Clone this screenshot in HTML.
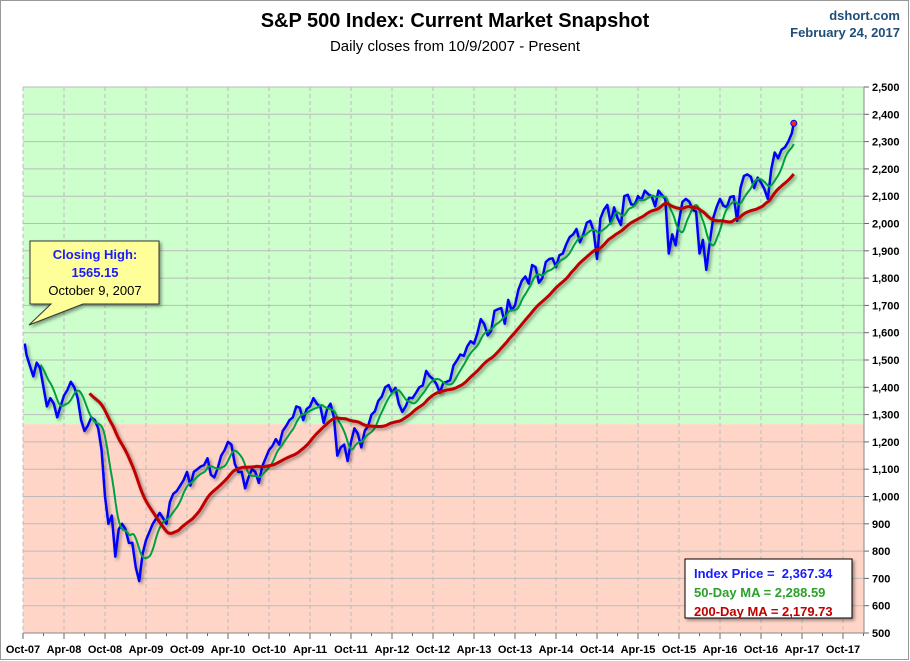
<!DOCTYPE html>
<html><head><meta charset="utf-8"><style>
body{margin:0;background:#fff;}
svg{display:block;font-family:"Liberation Sans",sans-serif;}
</style></head><body>
<svg id="chart" width="910" height="661" viewBox="0 0 910 661">
<defs>
<filter id="sh" x="-10%" y="-10%" width="130%" height="130%"><feDropShadow dx="2" dy="2" stdDeviation="1.5" flood-color="#000" flood-opacity="0.4"/></filter>
</defs>
<rect x="0.5" y="0.5" width="908" height="659" fill="#fff" stroke="#999"/>
<text x="455" y="27" text-anchor="middle" font-size="20" font-weight="bold" fill="#000">S&amp;P 500 Index: Current Market Snapshot</text>
<text x="455" y="51" text-anchor="middle" font-size="15" fill="#000">Daily closes from 10/9/2007 - Present</text>
<text x="900" y="20" text-anchor="end" font-size="13" font-weight="bold" fill="#1f4e79">dshort.com</text>
<text x="900" y="37" text-anchor="end" font-size="13" font-weight="bold" fill="#1f4e79">February 24, 2017</text>
<g id="plot"></g>
</svg>
<script>
// half-monthly S&P 500 closes starting Oct 2007 (last point = Feb 24, 2017)
const priceValues = [1560,1520,1480,1440,1490,1470,1400,1330,1360,1340,1290,1330,1370,1390,1420,1400,1360,1280,1240,1260,1290,1280,1250,1170,1000,900,930,780,880,900,880,830,830,740,690,790,840,870,900,920,940,920,900,980,1010,1020,1040,1060,1090,1040,1090,1100,1110,1115,1140,1080,1070,1105,1150,1170,1200,1190,1120,1090,1090,1030,1070,1100,1090,1050,1110,1140,1170,1185,1210,1190,1240,1258,1280,1290,1330,1325,1280,1320,1330,1360,1340,1330,1270,1320,1340,1290,1150,1180,1190,1130,1200,1250,1230,1180,1240,1258,1300,1312,1350,1366,1400,1408,1380,1398,1340,1310,1330,1362,1360,1379,1400,1407,1460,1441,1430,1412,1380,1416,1420,1426,1480,1498,1520,1515,1550,1569,1560,1598,1650,1631,1590,1606,1680,1686,1690,1633,1720,1682,1700,1757,1790,1806,1780,1848,1840,1783,1800,1859,1870,1872,1840,1884,1890,1924,1950,1960,1980,1931,1960,2003,2010,1972,1870,2018,2050,2068,2000,2059,2020,1995,2100,2105,2070,2068,2100,2086,2120,2107,2100,2063,2120,2104,2090,1890,1960,1920,2010,2079,2090,2080,2050,2044,1890,1940,1830,1932,2020,2060,2090,2065,2060,2097,2100,2010,2130,2174,2180,2171,2130,2168,2150,2126,2090,2199,2260,2239,2270,2279,2300,2330,2367];
const priceMonths = priceValues.map((v,i)=> i===0 ? 0.27 : (i===priceValues.length-1 ? 112.8 : i*0.5));
const yTicks = [500,600,700,800,900,1000,1100,1200,1300,1400,1500,1600,1700,1800,1900,2000,2100,2200,2300,2400,2500];
const xTickLabels = ["Oct-07","Apr-08","Oct-08","Apr-09","Oct-09","Apr-10","Oct-10","Apr-11","Oct-11","Apr-12","Oct-12","Apr-13","Oct-13","Apr-14","Oct-14","Apr-15","Oct-15","Apr-16","Oct-16","Apr-17","Oct-17"];
const xTickMonths = [0,6,12,18,24,30,36,42,48,54,60,66,72,78,84,90,96,102,108,114,120];
const zoneSplit = 1265;
const legendValues = ["2,367.34","2,288.59","2,179.73"];

const L=23,R=864,T=87,B=633;
const xScale=m=>L+m*(843-23)/120;
const yScale=v=>B-(v-500)*(B-T)/2000;
const NS="http://www.w3.org/2000/svg";
const g=document.getElementById('plot');
function mk(tag,attrs,parent){const e=document.createElementNS(NS,tag);for(const k in attrs)e.setAttribute(k,attrs[k]);(parent||g).appendChild(e);return e;}

let e;
e=mk('rect',{x:L,y:T,width:R-L,height:yScale(zoneSplit)-T,fill:'#ccffcc'});


e=mk('rect',{x:L,y:yScale(zoneSplit),width:R-L,height:B-yScale(zoneSplit),fill:'#ffd5c8'});



yTicks.forEach(v=>{
  const y=yScale(v);
  e=mk('line',{x1:L,x2:R,y1:y,y2:y,stroke:'#bbb','stroke-width':1});
  
  
  mk('line',{x1:R,x2:R+5,y1:y,y2:y,stroke:'#666'});
  e=mk('text',{x:872,y:y+4,'font-size':11,'font-weight':'bold',fill:'#000'});
  e.textContent=v.toLocaleString('en-US');
  
  
});
for(let m=0;m<=126;m+=3){
  const x=xScale(m); if(x>R)break;
  if(m%6===0){
    e=mk('line',{x1:x,x2:x,y1:T,y2:B,stroke:'#bbb','stroke-dasharray':'4,3'});
    
    
  }
  mk('line',{x1:x,x2:x,y1:B,y2:B+(m%6===0?6:3),stroke:'#666'});
}
mk('line',{x1:L,x2:R,y1:B,y2:B,stroke:'#888'});
mk('line',{x1:R,x2:R,y1:T,y2:B,stroke:'#888'});
xTickLabels.forEach((lab,i)=>{
  e=mk('text',{x:xScale(xTickMonths[i]),y:653,'text-anchor':'middle','font-size':11,'font-weight':'bold',fill:'#000'});
  e.textContent=lab;
  
  
});

// daily interpolation for moving averages
const daily=[];
for(let m=priceMonths[0];m<=priceMonths[priceMonths.length-1]+1e-9;m+=1/21){
  let i=0;while(i<priceMonths.length-2&&priceMonths[i+1]<m)i++;
  const t=Math.min(1,(m-priceMonths[i])/(priceMonths[i+1]-priceMonths[i]));
  daily.push([m,priceValues[i]+t*(priceValues[i+1]-priceValues[i])]);
}
function ma(n){const out=[];let s=0;for(let i=0;i<daily.length;i++){s+=daily[i][1];if(i>=n)s-=daily[i-n][1];if(i>=n-1)out.push([daily[i][0],s/n]);}return out;}
const pathOf=pts=>pts.map((p,i)=>(i?'L':'M')+xScale(p[0]).toFixed(1)+','+yScale(p[1]).toFixed(1)).join('');

e=mk('path',{d:pathOf(priceMonths.map((m,i)=>[m,priceValues[i]])),fill:'none',stroke:'#0000ff','stroke-width':2.5,'stroke-linejoin':'round',filter:'url(#sh)'});


e=mk('path',{d:pathOf(ma(50)),fill:'none',stroke:'#00a040','stroke-width':2});


e=mk('path',{d:pathOf(ma(200)),fill:'none',stroke:'#c00000','stroke-width':3,filter:'url(#sh)'});


const lm=priceMonths[priceMonths.length-1],lv=priceValues[priceValues.length-1];
e=mk('circle',{cx:xScale(lm),cy:yScale(lv),r:3,fill:'#ff2020',stroke:'#00f'});



// callout
const cg=mk('g',{filter:'url(#sh)'});


mk('path',{d:'M30,241 H159 V304 H83 L29,325 L51,304 H30 Z',fill:'#ffff99',stroke:'#333'},cg);
e=mk('text',{x:95,y:259,'text-anchor':'middle','font-size':13,'font-weight':'bold',fill:'#1a1aff'});e.textContent='Closing High:';
e=mk('text',{x:95,y:277,'text-anchor':'middle','font-size':13,'font-weight':'bold',fill:'#1a1aff'});e.textContent='1565.15';
e=mk('text',{x:95,y:295,'text-anchor':'middle','font-size':13,fill:'#000'});e.textContent='October 9, 2007';

// legend
const lg=mk('g',{filter:'url(#sh)'});


mk('rect',{x:685,y:559,width:167,height:59,fill:'#fff',stroke:'#000'},lg);
const lgLabels=['Index Price = ','50-Day MA = ','200-Day MA = '],lgCol=['#1a1aff','#2ca02c','#c00000'];
lgLabels.forEach((t,i)=>{
  e=mk('text',{x:694,y:578+i*19,'font-size':13,'font-weight':'bold',fill:lgCol[i]});
  e.textContent=t+(i===0?'\u00a0':'')+legendValues[i];
  
  
});
</script>
</body></html>
